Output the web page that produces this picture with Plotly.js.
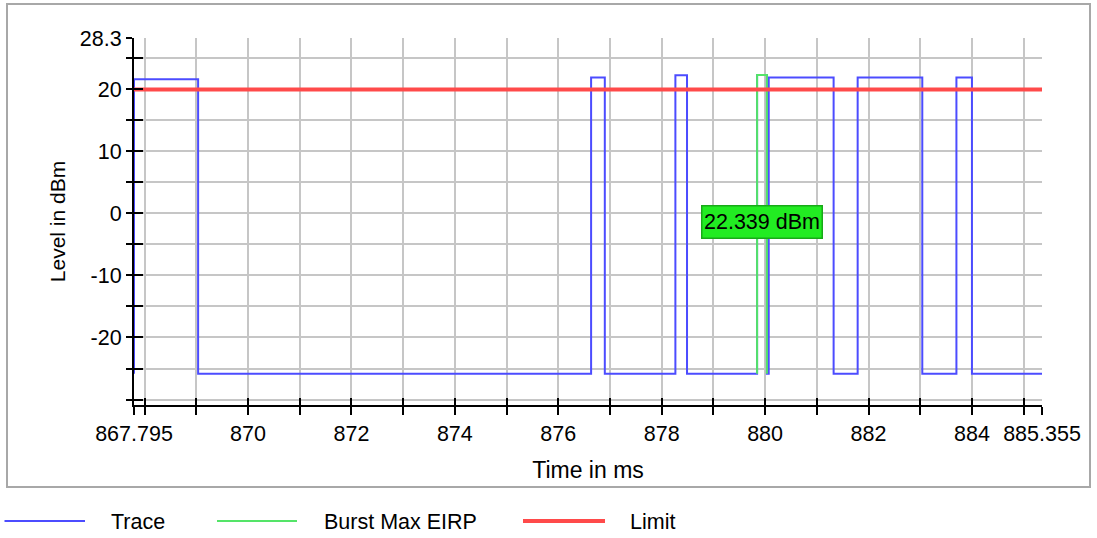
<!DOCTYPE html>
<html>
<head>
<meta charset="utf-8">
<script src="https://cdn.plot.ly/plotly-3.0.1.min.js"></script>
<style>
html,body{margin:0;padding:0;background:#ffffff;}
#chart{width:1097px;height:538px;}
</style>
</head>
<body>
<div id="chart"></div>
<script>
// ---- data ----
const traceTimes  = [867.795, 867.795, 869.035, 876.635, 876.900, 878.265, 878.490, 879.845, 880.035, 880.070, 881.325, 881.790, 883.040, 883.700, 884.000, 885.355];
const traceLevels = [-25.84, 21.65, -25.84, 21.92, -25.84, 22.29, -25.84, 22.339, -25.84, 21.92, -25.84, 21.92, -25.84, 21.92, -25.84, -25.84];
const burstTimes  = [879.845, 879.845, 880.035, 880.035];
const burstLevels = [-25.84, 22.339, 22.339, -25.84];
const limitTimes  = [867.795, 885.355];
const limitLevels = [20, 20];
const burstLabel  = '22.339 dBm';

const xTickVals = [867.795, 868, 869, 870, 871, 872, 873, 874, 875, 876, 877, 878, 879, 880, 881, 882, 883, 884, 885, 885.355];
const xTickText = ['867.795', '', '', '870', '', '872', '', '874', '', '876', '', '878', '', '880', '', '882', '', '884', '', '885.355'];
const yTickVals = [-30, -25, -20, -15, -10, -5, 0, 5, 10, 15, 20, 25, 28.3];
const yTickText = ['', '', '-20', '', '-10', '', '0', '', '10', '', '20', '', '28.3'];

const seriesNames = ['Trace', 'Burst Max EIRP', 'Limit'];

// ---- layout geometry ----
const W = 1097, H = 538;
const M = {l: 134, r: 55, t: 38, b: 133};
const plotW = W - M.l - M.r, plotH = H - M.t - M.b;
const px2x = p => (p - M.l) / plotW;
const px2y = p => (H - M.b - p) / plotH;

const FONT = 'Liberation Sans, Arial, sans-serif';
const BLUE = 'rgb(76,76,255)';
const GREEN = 'rgb(84,228,104)';
const RED = 'rgb(255,74,74)';
const GRID = 'rgb(198,198,198)';

const xRange = [traceTimes[0], traceTimes[traceTimes.length - 1]];
const yRange = [-30.887, 28.3];

const traces = [
  {x: traceTimes, y: traceLevels, type: 'scatter', mode: 'lines', name: seriesNames[0],
   line: {color: BLUE, width: 2, shape: 'hv'}, hoverinfo: 'skip'},
  {x: burstTimes, y: burstLevels, type: 'scatter', mode: 'lines', name: seriesNames[1],
   line: {color: GREEN, width: 2}, hoverinfo: 'skip'},
  {x: limitTimes, y: limitLevels, type: 'scatter', mode: 'lines', name: seriesNames[2],
   line: {color: RED, width: 4}, hoverinfo: 'skip'},
  // empty helper trace so the overlaid tick-only axes are built
  {x: [], y: [], xaxis: 'x2', yaxis: 'y2', type: 'scatter', mode: 'lines', showlegend: false, hoverinfo: 'skip'}
];

const shapes = [
  // outer frame
  {type: 'rect', xref: 'paper', yref: 'paper', x0: px2x(7), x1: px2x(1090), y0: px2y(487), y1: px2y(4),
   line: {color: 'rgb(168,168,168)', width: 2}, fillcolor: 'rgba(0,0,0,0)', layer: 'below'}
];
const annotations = [
  {x: (burstTimes[0] + burstTimes[burstTimes.length - 1]) / 2, xref: 'x', y: px2y(222), yref: 'paper',
   text: burstLabel, showarrow: false, xanchor: 'center', yanchor: 'middle',
   width: 116, height: 28, align: 'center', valign: 'middle',
   font: {family: FONT, size: 21.5, color: '#000'},
   bgcolor: 'rgb(34,236,34)', bordercolor: 'rgb(24,170,24)', borderwidth: 1.5, borderpad: 1.5}
];

// custom legend row
const legendColors = [BLUE, GREEN, RED];
const legendWidths = [2, 2, 4];
const legendLineX = [[4.5, 85], [217, 297], [523, 605]];
const legendTextX = [109, 322, 628];
const legendY = 521;
for (let i = 0; i < seriesNames.length; i++) {
  shapes.push({type: 'line', xref: 'paper', yref: 'paper',
    x0: px2x(legendLineX[i][0]), x1: px2x(legendLineX[i][1]), y0: px2y(legendY), y1: px2y(legendY),
    line: {color: legendColors[i], width: legendWidths[i]}});
  annotations.push({xref: 'paper', yref: 'paper', x: px2x(legendTextX[i]), y: px2y(legendY + 1),
    text: seriesNames[i], showarrow: false, xanchor: 'left', yanchor: 'middle',
    font: {family: FONT, size: 21.5, color: '#000'}});
}

const layout = {
  width: W, height: H,
  margin: M,
  paper_bgcolor: '#ffffff', plot_bgcolor: '#ffffff',
  showlegend: false,
  font: {family: FONT, size: 21.5, color: '#000'},
  xaxis: {
    range: xRange, tickmode: 'array', tickvals: xTickVals, ticktext: xTickText,
    ticks: 'outside', ticklen: 8, tickwidth: 2, tickcolor: '#000',
    showline: true, linecolor: '#000', linewidth: 2,
    showgrid: true, gridcolor: GRID, gridwidth: 2, zeroline: false,
    tickfont: {family: FONT, size: 21.5, color: '#000'},
    title: {text: 'Time in ms', font: {family: FONT, size: 23, color: '#000'}, standoff: 17},
    automargin: false, layer: 'below traces', fixedrange: true
  },
  xaxis2: {
    overlaying: 'x', anchor: 'y2', side: 'bottom',
    range: xRange, tickmode: 'array', tickvals: xTickVals,
    ticks: 'inside', ticklen: 7, tickwidth: 2, tickcolor: '#000',
    showticklabels: false, showgrid: false, showline: false, zeroline: false,
    automargin: false, fixedrange: true
  },
  yaxis: {
    range: yRange, tickmode: 'array', tickvals: yTickVals, ticktext: yTickText,
    ticks: 'outside', ticklen: 6, tickwidth: 2, tickcolor: '#000',
    showline: true, linecolor: '#000', linewidth: 2,
    showgrid: true, gridcolor: GRID, gridwidth: 2, zeroline: false,
    tickfont: {family: FONT, size: 21.5, color: '#000'},
    title: {text: 'Level in dBm', font: {family: FONT, size: 21, color: '#000'}, standoff: 8},
    automargin: false, layer: 'below traces', fixedrange: true
  },
  yaxis2: {
    overlaying: 'y', anchor: 'x2', side: 'left',
    range: yRange, tickmode: 'array', tickvals: yTickVals,
    ticks: 'inside', ticklen: 9, tickwidth: 2, tickcolor: '#000',
    showticklabels: false, showgrid: false, showline: false, zeroline: false,
    automargin: false, fixedrange: true
  },
  shapes: shapes,
  annotations: annotations
};

Plotly.newPlot('chart', traces, layout, {displayModeBar: false, staticPlot: true});
</script>
</body>
</html>
